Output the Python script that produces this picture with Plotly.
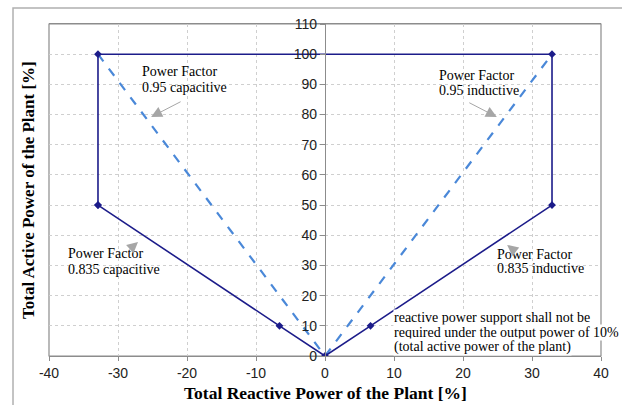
import plotly.graph_objects as go

# ---- data ----
envelope_q = [-32.9, -32.9, 32.9, 32.9, 6.6, 0, -6.6, -32.9]
envelope_p = [50, 100, 100, 50, 10, 0, 10, 50]
pf095_q = [-32.9, 0, 32.9]
pf095_p = [100, 0, 100]
x_ticks = [-40, -30, -20, -10, 0, 10, 20, 30, 40]
x_ticktext = ["-40", "-30", "-20", "-10", "0", "10", "20", "30", "40"]
y_ticks = [0, 10, 20, 30, 40, 50, 60, 70, 80, 90, 100, 110]

serif = "Liberation Serif"
sans = "Liberation Sans"
navy = "#1c1c8a"
blue = "#4a88d8"
gray = "#a6a6a6"

fig = go.Figure()
fig.add_trace(go.Scatter(x=pf095_q, y=pf095_p, mode="lines",
                         line=dict(color=blue, width=2.2, dash="dash"),
                         hoverinfo="skip"))
fig.add_trace(go.Scatter(x=envelope_q, y=envelope_p, mode="lines+markers",
                         line=dict(color=navy, width=1.6),
                         marker=dict(symbol="diamond", size=6, color=navy),
                         hoverinfo="skip"))


def add_lines(lines, x, y, spacing, bg=None):
    for i, t in enumerate(lines):
        kw = dict(bgcolor=bg, borderpad=0) if bg else {}
        fig.add_annotation(x=x, y=y, text=t, showarrow=False, xanchor="left",
                           yanchor="middle", align="left", yshift=-i * spacing,
                           font=dict(family=serif, size=14, color="#000"), **kw)


# text labels
add_lines(["Power Factor", "0.95 capacitive"], -26.8, 94.4, 16)
add_lines(["Power Factor", "0.95 inductive"], 16.3, 93.1, 15)
add_lines(["Power Factor", "0.835 capacitive"], -37.5, 34.1, 16)
add_lines(["Power Factor", "0.835 inductive"], 24.6, 33.5, 14)
add_lines(["reactive power support shall not be",
           "required under the output power of 10%",
           "(total active power of the plant)"], 9.9, 12.6, 14.5, bg="white")

# arrows
arrows = [(-25.2, 79.2, 31, -16), (24.9, 79.2, -29, -15),
          (-27.1, 37.8, -9, 8), (26.4, 36.8, 10, 8)]
for x, y, ax, ay in arrows:
    fig.add_annotation(x=x, y=y, ax=ax, ay=ay, text="", showarrow=True,
                       arrowhead=2, arrowsize=2.2, arrowwidth=1, arrowcolor=gray)

# axis titles
fig.add_annotation(x=0.5, y=-0.111, xref="paper", yref="paper",
                   text="<b>Total Reactive Power of the Plant [%]</b>", showarrow=False,
                   xanchor="center", yanchor="middle",
                   font=dict(family=serif, size=17.5, color="#000"))
fig.add_annotation(x=-0.038, y=0.5, xref="paper", yref="paper", textangle=-90,
                   text="<b>Total Active Power of the Plant [%]</b>", showarrow=False,
                   xanchor="center", yanchor="middle",
                   font=dict(family=serif, size=17, color="#000"))

fig.update_layout(
    width=622, height=405,
    margin=dict(l=49, r=21, t=24, b=49),
    paper_bgcolor="white", plot_bgcolor="white",
    showlegend=False,
    xaxis=dict(range=[-40, 40], tickvals=x_ticks, ticktext=x_ticktext,
               showgrid=True, gridcolor="#cfcfcf", griddash="dot", gridwidth=1,
               zeroline=False, showline=True, linecolor="#8c8c8c", linewidth=1.2,
               mirror=True, ticks="outside", ticklen=4, tickcolor="#8c8c8c",
               tickfont=dict(family=sans, size=14, color="#222")),
    yaxis=dict(range=[0, 110], tickvals=y_ticks, anchor="free", position=0.5,
               showgrid=True, gridcolor="#cfcfcf", griddash="dot", gridwidth=1,
               zeroline=False, showline=True, linecolor="#8c8c8c", linewidth=1.2,
               ticks="outside", ticklen=5, tickcolor="#8c8c8c",
               tickfont=dict(family=sans, size=14, color="#222")),
    shapes=[
        dict(type="rect", xref="paper", yref="paper", x0=0, y0=0, x1=1, y1=1,
             line=dict(color="#8c8c8c", width=1.2), layer="below"),
        dict(type="rect", xref="paper", yref="paper", x0=-0.0652, y0=-0.2,
             x1=1.1, y1=1.048, line=dict(color="#b0b0b0", width=1.5), layer="below"),
    ],
)

fig.write_html("out.html", config={"displayModeBar": False},
               post_script="document.body.style.margin='0';document.body.style.overflow='hidden';")
